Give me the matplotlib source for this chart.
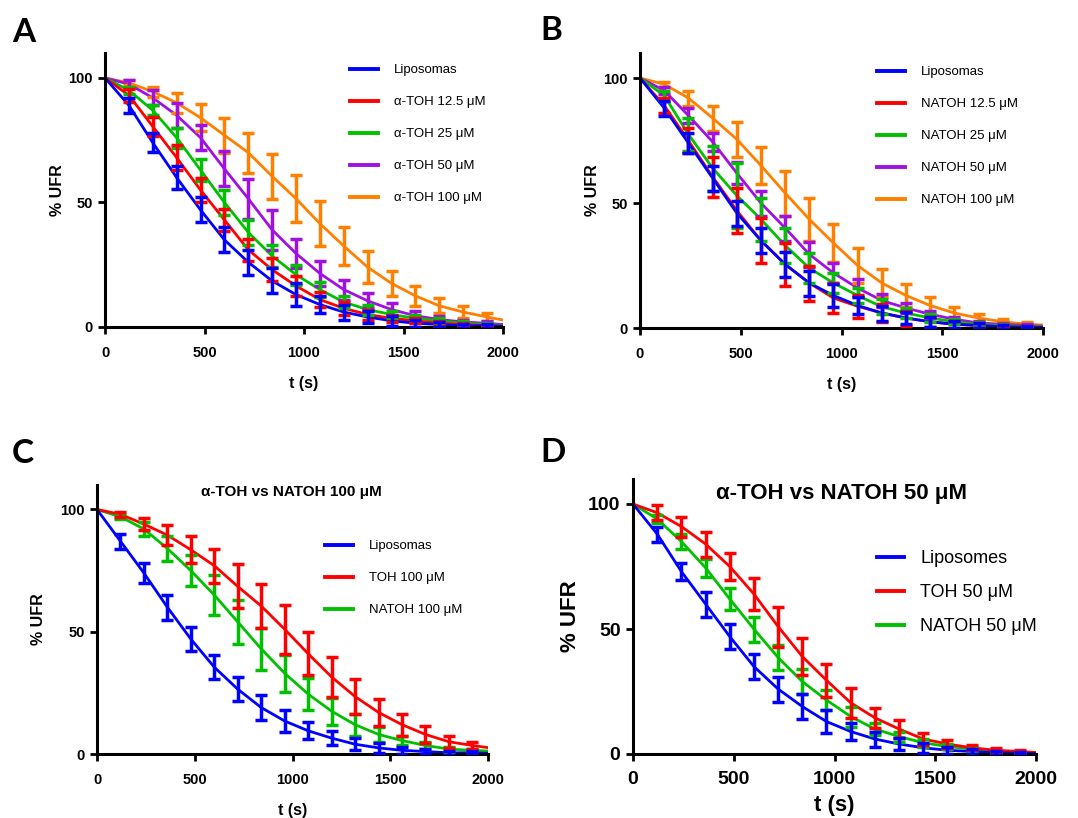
import matplotlib
matplotlib.use("Agg")
import matplotlib.pyplot as plt

plt.rcParams['font.family'] = ['Liberation Sans', 'DejaVu Sans']

# sampling times (s); the fitted curves also run from t = 0 to t = 2000
t = [120, 240, 360, 480, 600, 720, 840, 960, 1080, 1200, 1320, 1440, 1560, 1680, 1800, 1920]
t_curve = [0] + t + [2000]

# values: first entry is t = 0, last entry is t = 2000, the rest are the measured points

# ---- panel A: alpha-TOH ----
lipo_a = [100, 89, 74, 60, 47, 35, 26, 18.5, 13, 9, 6, 4, 2.5, 1.5, 1, 0.5, 0.5, 0.3]
lipo_a_err = [3, 3.7, 4.7, 5, 5, 5, 5, 4.5, 3.5, 3, 2.5, 2, 1.5, 1, 0.8, 0.8]
toh125 = [100, 93, 80.5, 68, 55, 43, 31, 23, 16.5, 11, 7.5, 5, 3.5, 2.5, 1.5, 1, 0.5, 0.4]
toh125_err = [2.5, 4, 5, 5, 4.5, 4.5, 4.5, 4, 3, 2.5, 2, 1.5, 1, 1, 0.8, 0.5]
toh25 = [100, 95, 87, 76, 63, 50, 38, 28.5, 21, 15, 10, 7, 5, 3.5, 2.5, 1.5, 1, 0.7]
toh25_err = [1.5, 2, 4, 4.5, 5, 5, 4.5, 4, 3, 2.5, 2, 1.5, 1.2, 1, 0.8, 0.5]
toh50 = [100, 97.5, 92, 85, 76, 63.5, 51.5, 39, 29.5, 21.5, 15, 10.5, 7, 4.5, 3, 2, 1.5, 1]
toh50_err = [1.5, 3, 5, 5, 7, 8, 8, 6, 5, 4, 3, 2.5, 2, 1.5, 1, 0.8]
toh100 = [100, 98, 94.5, 90, 84, 77, 70, 60.5, 51.5, 41.5, 32.5, 24, 17.5, 12.5, 8.5, 6, 4, 2.8]
toh100_err = [1, 2, 4, 5.5, 7, 8, 9, 9.5, 9, 7.5, 6.5, 5, 4, 3, 2.5, 1.5]

# ---- panel B: NATOH ----
lipo_b = [100, 88, 74, 60, 46, 35, 25.5, 18, 13, 9, 6, 4, 2.5, 1.5, 1, 0.5, 0.3, 0.2]
lipo_b_err = [3, 4, 5, 5, 5, 5, 5, 4.5, 3.5, 3, 2.5, 2, 1.5, 1, 0.8, 0.5]
natoh125 = [100, 89, 75, 60.5, 47, 35, 25.5, 18, 12, 8.7, 6, 4, 2.5, 1.5, 1, 0.5, 0.3, 0.2]
natoh125_err = [3, 5, 8, 9, 9, 8.5, 7, 6, 4.5, 3.5, 3, 2, 1.5, 1, 0.6, 0.4]
natoh25 = [100, 93, 77.5, 64, 53, 43.5, 33, 24, 18, 13, 8.5, 6, 4, 2.5, 1.5, 1, 0.5, 0.4]
natoh25_err = [2, 6.5, 9, 13, 8.5, 7, 6, 4, 3, 3, 2, 1.5, 1, 0.8, 0.6, 0.4]
natoh50 = [100, 95, 85, 74.5, 62, 50, 40, 29.5, 22, 16, 11, 8, 5.5, 3.5, 2, 1.5, 1, 0.7]
natoh50_err = [1.5, 3, 3.5, 4.5, 5, 5, 5, 4, 3.5, 2.5, 2, 1.5, 1, 0.8, 0.6, 0.5]
natoh100 = [100, 97.5, 92, 84, 75.5, 65, 54, 43.5, 34, 25, 18, 13, 9, 6, 4, 2.5, 1.5, 1.2]
natoh100_err = [1, 3, 5, 7, 7.5, 9, 8.5, 7.5, 7, 5.5, 4.5, 3.5, 2.5, 1.5, 1, 0.8]

# ---- panel C: 100 uM comparison ----
lipo_c = [100, 87, 74, 60, 47, 35.5, 26.5, 19, 13.5, 9.5, 6.5, 4, 2.5, 1.5, 1, 0.5, 0.5, 0.3]
lipo_c_err = [3, 4, 5, 5, 5, 5, 5, 4.5, 3.5, 3, 2.5, 2, 1.5, 1, 0.8, 0.6]
tohc100 = [100, 98, 94, 89.5, 83.5, 77, 68.5, 60.5, 51, 41, 31.5, 23.5, 17, 12, 8, 5, 3.5, 2.6]
tohc100_err = [1, 2.5, 4, 5.5, 7, 9, 9, 10, 8.7, 8.3, 7, 5.5, 4.5, 3.5, 2.5, 1.5]
natohc100 = [100, 97, 92, 84, 75, 65, 54, 43, 33, 24.5, 17.5, 12, 8, 5.5, 3.5, 2, 1.5, 1.2]
natohc100_err = [1, 3, 5, 6.5, 8, 9, 8.5, 7.5, 6.5, 5.5, 4.5, 3, 2, 1.5, 1, 0.6]

# ---- panel D: 50 uM comparison ----
lipo_d = [100, 88, 73, 60, 47, 35, 26, 19, 13, 9, 6, 4, 2.5, 1.5, 1, 0.5, 0.3, 0.2]
lipo_d_err = [3, 3.5, 5, 5, 5, 5, 5, 4.5, 3.5, 3, 2.5, 2, 1.5, 1, 0.8, 0.5]
tohd50 = [100, 96.5, 91, 84, 75, 64, 51, 39, 29.5, 20.5, 14.5, 10, 6, 4, 2.5, 1.5, 1, 0.6]
tohd50_err = [3, 4, 5, 5.5, 6.5, 8, 7.5, 6.5, 6, 4, 3.5, 2.5, 1.5, 1, 0.8, 0.6]
natohd50 = [100, 94, 85, 74.5, 62, 50, 38.6, 29, 21.6, 15, 10, 7, 4.5, 3, 2, 1, 0.5, 0.4]
natohd50_err = [1.5, 3, 3.5, 4.5, 5, 5, 5, 4, 4, 2.5, 2, 1.5, 1, 0.8, 0.6, 0.4]

BLUE = '#0000FF'
RED = '#FF0000'
GREEN = '#00C000'
PURPLE = '#A010E0'
ORANGE = '#FF8000'

fig = plt.figure(figsize=(10.78, 8.18), dpi=100)
W, H = 1078.0, 818.0


def add_axes(x0, x1, y_top, y_bottom):
    return fig.add_axes([x0 / W, 1 - y_bottom / H, (x1 - x0) / W, (y_bottom - y_top) / H])


def plot_series(ax, y, err, color, label, lw=2.0):
    ax.plot(t_curve, y, color=color, lw=lw, zorder=2)
    ax.errorbar(t, y[1:-1], yerr=err, fmt='none', ecolor=color, elinewidth=2.5,
                capsize=4.5, capthick=2.5, zorder=3)
    return plt.Line2D([], [], color=color, lw=2.8, label=label)


def style_axes(ax, ylpad, big=False):
    ax.set_xlim(0, 2000)
    ax.set_ylim(0, 110)
    ax.set_xticks([0, 500, 1000, 1500, 2000])
    ax.set_yticks([0, 50, 100])
    for s in ['top', 'right']:
        ax.spines[s].set_visible(False)
    for s in ['left', 'bottom']:
        ax.spines[s].set_linewidth(2.2)
    fs = 14 if big else 10.5
    ax.tick_params(direction='out', length=5, width=2, labelsize=fs)
    ax.tick_params(axis='x', pad=7 if big else 8.5)
    ax.tick_params(axis='y', pad=4)
    for lab in ax.get_xticklabels() + ax.get_yticklabels():
        lab.set_fontweight('bold')
    lfs = 16 if big else 11.5
    ax.set_xlabel('t (s)', fontsize=lfs, fontweight='bold', labelpad=5 if big else 11.5)
    ax.set_ylabel('% UFR', fontsize=lfs, fontweight='bold', labelpad=ylpad)


def add_legend(ax, handles, x, y, big=False):
    if big:
        kw = dict(fontsize=13, handlelength=1.5, handletextpad=0.9, labelspacing=0.95)
    else:
        kw = dict(fontsize=9.5, handlelength=2.1, handletextpad=1.2, labelspacing=1.5)
    ax.legend(handles=handles, loc='upper left', bbox_to_anchor=(x / W, 1 - y / H),
              bbox_transform=fig.transFigure, frameon=False, borderpad=0,
              borderaxespad=0, **kw)


# Panel A
axA = add_axes(105, 503, 53, 327)
series_a = [
    (lipo_a, lipo_a_err, BLUE, 'Liposomas'),
    (toh125, toh125_err, RED, 'α-TOH 12.5 μM'),
    (toh25, toh25_err, GREEN, 'α-TOH 25 μM'),
    (toh50, toh50_err, PURPLE, 'α-TOH 50 μM'),
    (toh100, toh100_err, ORANGE, 'α-TOH 100 μM'),
]
hA = [plot_series(axA, *s) for s in reversed(series_a)][::-1]
style_axes(axA, ylpad=2)
add_legend(axA, hA, 350, 64)

# Panel B
axB = add_axes(640, 1043, 53, 328)
series_b = [
    (lipo_b, lipo_b_err, BLUE, 'Liposomas'),
    (natoh125, natoh125_err, RED, 'NATOH 12.5 μM'),
    (natoh25, natoh25_err, GREEN, 'NATOH 25 μM'),
    (natoh50, natoh50_err, PURPLE, 'NATOH 50 μM'),
    (natoh100, natoh100_err, ORANGE, 'NATOH 100 μM'),
]
hB = [plot_series(axB, *s) for s in reversed(series_b)][::-1]
style_axes(axB, ylpad=2)
add_legend(axB, hB, 877, 66)

# Panel C
axC = add_axes(97, 488, 485, 754)
series_c = [
    (lipo_c, lipo_c_err, BLUE, 'Liposomas'),
    (tohc100, tohc100_err, RED, 'TOH 100 μM'),
    (natohc100, natohc100_err, GREEN, 'NATOH 100 μM'),
]
hC = [plot_series(axC, *s) for s in reversed(series_c)][::-1]
style_axes(axC, ylpad=10)
add_legend(axC, hC, 325, 540)
fig.text(291 / W, 1 - 492 / H, 'α-TOH vs NATOH 100 μM', fontsize=11, fontweight='bold',
         ha='center', va='center')

# Panel D
axD = add_axes(633, 1036, 479, 754)
series_d = [
    (lipo_d, lipo_d_err, BLUE, 'Liposomes'),
    (tohd50, tohd50_err, RED, 'TOH 50 μM'),
    (natohd50, natohd50_err, GREEN, 'NATOH 50 μM'),
]
hD = [plot_series(axD, *s) for s in reversed(series_d)][::-1]
style_axes(axD, ylpad=5, big=True)
add_legend(axD, hD, 877, 550, big=True)
fig.text(842 / W, 1 - 493 / H, 'α-TOH vs NATOH 50 μM', fontsize=16, fontweight='bold',
         ha='center', va='center')

# panel letters
for letter, x, y in [('A', 12, 42), ('B', 540, 40), ('C', 12, 463), ('D', 540, 462)]:
    fig.text(x / W, 1 - y / H, letter, fontsize=24, fontweight='bold',
             family=['Lato', 'DejaVu Sans'], va='baseline', ha='left')

fig.savefig('out.png', dpi=100)
